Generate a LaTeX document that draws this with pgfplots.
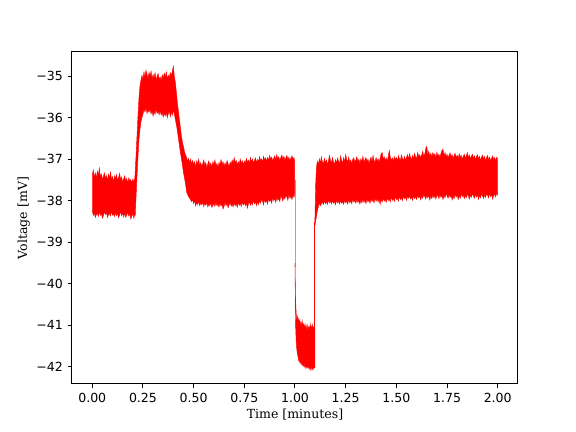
\documentclass[border=0pt]{standalone}
\usepackage{pgfplots}
\pgfplotsset{compat=1.18}
\usepackage{fontspec}
\setmainfont{DejaVu Serif}
\newfontfamily\tickfont{DejaVu Sans}
\begin{document}
\begin{tikzpicture}
\useasboundingbox (-54pt,-36pt) rectangle (378pt,288pt);
\begin{axis}[
  scale only axis, width=334.5pt, height=249pt,
  xmin=-0.1, xmax=2.1, ymin=-42.41, ymax=-34.42,
  axis line style={line width=0.75pt},
  every tick/.style={line width=0.75pt, black},
  tick align=outside, tick pos=left, major tick length=3.3pt,
  xtick={0,0.25,0.5,0.75,1,1.25,1.5,1.75,2},
  xticklabels={0.00,0.25,0.50,0.75,1.00,1.25,1.50,1.75,2.00},
  ytick={-42,-41,-40,-39,-38,-37,-36,-35},
  yticklabels={−42,−41,−40,−39,−38,−37,−36,−35},
  ticklabel style={font=\tickfont\fontsize{9.4}{11}\selectfont},
  xlabel={Time [minutes]}, ylabel={Voltage [mV]},
  label style={font=\fontsize{9.4}{11}\selectfont},
  xlabel style={yshift=2pt},
  ylabel style={yshift=-2pt},
]
% segment 1 + rise + plateau + decay + segment 2
\addplot[fill=red, draw=red, line width=0.3pt] coordinates {
(0.000,-37.38) (0.005,-37.26) (0.010,-37.44) (0.015,-37.33) (0.020,-37.47) (0.025,-37.29) (0.030,-37.40) (0.035,-37.21) (0.040,-37.43) (0.045,-37.36) (0.050,-37.50) (0.055,-37.41) (0.060,-37.33) (0.065,-37.47) (0.070,-37.39) (0.075,-37.52) (0.080,-37.36) (0.085,-37.45) (0.090,-37.31) (0.095,-37.49) (0.100,-37.42) (0.105,-37.55) (0.110,-37.40) (0.115,-37.46) (0.120,-37.37) (0.125,-37.52) (0.130,-37.44) (0.135,-37.34) (0.140,-37.50) (0.145,-37.43) (0.150,-37.56) (0.155,-37.47) (0.160,-37.40) (0.165,-37.54) (0.170,-37.46) (0.175,-37.58) (0.180,-37.45) (0.185,-37.52) (0.190,-37.49) (0.195,-37.57) (0.200,-37.48) (0.205,-37.55) (0.210,-37.45)
(0.215,-37.00) (0.220,-36.50) (0.225,-36.00) (0.230,-35.55) (0.235,-35.25) (0.240,-35.10)
(0.245,-34.98) (0.250,-35.08) (0.255,-34.90) (0.260,-35.02) (0.265,-34.86) (0.270,-34.95) (0.275,-35.06) (0.280,-34.91) (0.285,-35.00) (0.290,-34.88) (0.295,-35.07) (0.300,-34.96) (0.305,-35.04) (0.310,-34.92) (0.315,-35.10) (0.320,-35.00) (0.325,-34.94) (0.330,-35.08) (0.335,-35.02) (0.340,-35.12) (0.345,-34.97) (0.350,-35.05) (0.355,-34.93) (0.360,-35.03) (0.365,-34.90) (0.370,-35.06) (0.375,-34.98) (0.380,-35.04) (0.385,-34.92) (0.390,-35.00) (0.395,-34.88) (0.400,-34.76) (0.405,-35.02)
(0.410,-35.15) (0.415,-35.40) (0.420,-35.65) (0.425,-35.85) (0.430,-36.05) (0.435,-36.25) (0.440,-36.45) (0.445,-36.60) (0.450,-36.70) (0.455,-36.82) (0.460,-36.90) (0.465,-36.95) (0.470,-37.05) (0.475,-36.98) (0.480,-37.08) (0.485,-37.00)
(0.490,-37.12) (0.495,-37.03) (0.500,-37.14) (0.505,-37.06) (0.510,-37.20) (0.515,-37.04) (0.520,-37.12) (0.525,-37.00) (0.530,-37.16) (0.535,-37.08) (0.540,-37.18) (0.545,-37.10) (0.550,-37.02) (0.555,-37.15) (0.560,-37.08) (0.565,-37.22) (0.570,-37.11) (0.575,-37.04) (0.580,-37.17) (0.585,-37.09) (0.590,-37.19) (0.595,-37.06) (0.600,-37.13) (0.605,-37.02) (0.610,-37.15) (0.615,-37.10) (0.620,-37.20) (0.625,-37.08) (0.630,-37.14) (0.635,-37.01) (0.640,-37.12) (0.645,-37.06) (0.650,-37.17) (0.655,-37.09) (0.660,-37.15) (0.665,-37.03) (0.670,-37.11) (0.675,-37.18) (0.680,-37.07) (0.685,-37.13) (0.690,-37.02) (0.695,-37.10) (0.700,-36.96) (0.705,-37.08) (0.710,-37.03) (0.715,-37.14) (0.720,-37.06) (0.725,-37.12) (0.730,-37.00) (0.735,-37.09) (0.740,-37.04) (0.745,-37.13) (0.750,-37.05) (0.755,-37.10) (0.760,-36.98) (0.765,-37.07) (0.770,-37.02) (0.775,-37.11) (0.780,-36.96) (0.785,-37.06) (0.790,-37.00) (0.795,-37.09) (0.800,-37.03) (0.805,-36.97) (0.810,-37.08) (0.815,-37.01) (0.820,-37.06) (0.825,-36.94) (0.830,-37.04) (0.835,-36.99) (0.840,-37.07) (0.845,-36.93) (0.850,-37.02) (0.855,-36.97) (0.860,-37.05) (0.865,-36.96) (0.870,-37.03) (0.875,-36.91) (0.880,-37.00) (0.885,-36.95) (0.890,-37.04) (0.895,-36.98) (0.900,-36.92) (0.905,-37.02) (0.910,-36.89) (0.915,-36.99) (0.920,-36.94) (0.925,-37.03) (0.930,-36.96) (0.935,-36.90) (0.940,-37.00) (0.945,-36.93) (0.950,-37.02) (0.955,-36.96) (0.960,-36.91) (0.965,-37.01) (0.970,-36.95) (0.975,-37.04) (0.980,-36.97) (0.985,-36.92) (0.990,-37.00) (0.995,-36.96) (0.998,-37.05)
(0.998,-37.82) (0.995,-37.92) (0.990,-37.86) (0.985,-37.97) (0.980,-37.89) (0.975,-37.94) (0.970,-37.84) (0.965,-37.99) (0.960,-37.91) (0.955,-37.87) (0.950,-37.96) (0.945,-37.90) (0.940,-38.01) (0.935,-37.93) (0.930,-37.88) (0.925,-38.02) (0.920,-37.94) (0.915,-37.99) (0.910,-37.91) (0.905,-38.04) (0.900,-37.95) (0.895,-38.00) (0.890,-37.92) (0.885,-38.06) (0.880,-37.97) (0.875,-38.02) (0.870,-37.94) (0.865,-38.08) (0.860,-37.99) (0.855,-38.04) (0.850,-37.96) (0.845,-38.10) (0.840,-38.01) (0.835,-37.97) (0.830,-38.06) (0.825,-38.00) (0.820,-38.09) (0.815,-38.02) (0.810,-38.12) (0.805,-38.03) (0.800,-38.07) (0.795,-37.99) (0.790,-38.10) (0.785,-38.04) (0.780,-38.11) (0.775,-38.02) (0.770,-38.08) (0.765,-38.18) (0.760,-38.05) (0.755,-38.12) (0.750,-38.04) (0.745,-38.10) (0.740,-38.03) (0.735,-38.14) (0.730,-38.06) (0.725,-38.11) (0.720,-38.04) (0.715,-38.16) (0.710,-38.07) (0.705,-38.12) (0.700,-38.05) (0.695,-38.15) (0.690,-38.08) (0.685,-38.13) (0.680,-38.04) (0.675,-38.10) (0.670,-38.17) (0.665,-38.06) (0.660,-38.12) (0.655,-38.04) (0.650,-38.14) (0.645,-38.20) (0.640,-38.08) (0.635,-38.13) (0.630,-38.05) (0.625,-38.15) (0.620,-38.09) (0.615,-38.12) (0.610,-38.03) (0.605,-38.14) (0.600,-38.07) (0.595,-38.11) (0.590,-38.16) (0.585,-38.05) (0.580,-38.12) (0.575,-38.08) (0.570,-38.15) (0.565,-38.04) (0.560,-38.11) (0.555,-38.06) (0.550,-38.14) (0.545,-38.03) (0.540,-38.10) (0.535,-38.05) (0.530,-38.12) (0.525,-38.02) (0.520,-38.09) (0.515,-38.04) (0.510,-38.13) (0.505,-37.99) (0.500,-38.07) (0.495,-37.97) (0.490,-38.02) (0.483,-37.96)
(0.475,-37.90) (0.466,-37.80) (0.460,-37.60) (0.455,-37.45) (0.450,-37.33) (0.445,-37.15) (0.440,-37.00) (0.433,-36.78) (0.425,-36.50) (0.417,-36.23) (0.410,-36.05)
(0.405,-35.92) (0.400,-35.82) (0.395,-35.94) (0.390,-35.86) (0.385,-35.98) (0.380,-35.84) (0.375,-35.91) (0.370,-36.00) (0.365,-35.87) (0.360,-35.96) (0.355,-35.89) (0.350,-35.99) (0.345,-35.88) (0.340,-35.94) (0.335,-35.83) (0.330,-35.93) (0.325,-35.85) (0.320,-35.90) (0.315,-35.80) (0.310,-35.92) (0.305,-35.86) (0.300,-35.96) (0.295,-35.84) (0.290,-35.91) (0.285,-35.79) (0.280,-35.87) (0.275,-35.82) (0.270,-35.90) (0.265,-35.76) (0.260,-35.86) (0.255,-35.80) (0.250,-35.92)
(0.245,-36.00) (0.240,-36.10) (0.235,-36.30) (0.230,-36.55) (0.225,-37.00) (0.220,-37.50) (0.215,-38.00) (0.212,-38.35)
(0.210,-38.33) (0.205,-38.42) (0.200,-38.30) (0.195,-38.38) (0.190,-38.44) (0.185,-38.31) (0.180,-38.37) (0.175,-38.27) (0.170,-38.35) (0.165,-38.40) (0.160,-38.29) (0.155,-38.39) (0.150,-38.30) (0.145,-38.36) (0.140,-38.26) (0.135,-38.34) (0.130,-38.41) (0.125,-38.30) (0.120,-38.36) (0.115,-38.28) (0.110,-38.38) (0.105,-38.31) (0.100,-38.35) (0.095,-38.25) (0.090,-38.37) (0.085,-38.30) (0.080,-38.34) (0.075,-38.40) (0.070,-38.28) (0.065,-38.33) (0.060,-38.26) (0.055,-38.36) (0.050,-38.42) (0.045,-38.31) (0.040,-38.35) (0.035,-38.27) (0.030,-38.38) (0.025,-38.30) (0.020,-38.34) (0.015,-38.40) (0.010,-38.29) (0.005,-38.35) (0.000,-38.24) (0.000,-37.38)
};
% drop at 1.0
\addplot[draw=red!50, line width=0.5pt] coordinates {(1.0,-37.5) (1.0,-39.6)};
% lower blob
\addplot[fill=red, draw=red, line width=0.3pt] coordinates {
(1.000,-39.50) (1.003,-40.40) (1.006,-40.72) (1.009,-40.88) (1.012,-40.78) (1.015,-40.92) (1.018,-40.84) (1.021,-40.97) (1.024,-40.86) (1.027,-41.02) (1.030,-40.93) (1.033,-41.05) (1.036,-40.90) (1.039,-41.03) (1.042,-40.96) (1.045,-41.08) (1.048,-40.99) (1.051,-41.10) (1.054,-40.97) (1.057,-41.06) (1.060,-41.12) (1.063,-41.00) (1.066,-41.09) (1.069,-41.03) (1.072,-41.14) (1.075,-40.96) (1.078,-41.08) (1.081,-41.02) (1.084,-41.12) (1.087,-40.98) (1.090,-41.10) (1.093,-41.04) (1.096,-41.12) (1.098,-41.06)
(1.098,-42.02) (1.096,-41.96) (1.093,-42.05) (1.090,-41.98) (1.087,-42.06) (1.084,-41.97) (1.081,-42.04) (1.078,-42.08) (1.075,-41.99) (1.072,-42.05) (1.069,-41.96) (1.066,-42.03) (1.063,-41.95) (1.060,-42.02) (1.057,-41.97) (1.054,-42.04) (1.051,-41.94) (1.048,-42.00) (1.045,-41.92) (1.042,-41.98) (1.039,-41.90) (1.036,-41.96) (1.033,-41.88) (1.030,-41.94) (1.027,-41.85) (1.024,-41.90) (1.021,-41.82) (1.018,-41.85) (1.015,-41.75) (1.012,-41.70) (1.009,-41.58) (1.006,-41.40) (1.003,-41.00) (1.000,-39.60) (1.000,-39.50)
};
% rise at 1.098
\addplot[draw=red, line width=0.7pt] coordinates {(1.098,-42.0) (1.098,-38.5)};
% segment 3
\addplot[fill=red, draw=red, line width=0.3pt] coordinates {
(1.098,-38.50) (1.102,-37.60) (1.106,-37.20)
(1.110,-37.05) (1.115,-37.14) (1.120,-36.99) (1.125,-37.10) (1.130,-36.94) (1.135,-37.06) (1.140,-37.12) (1.145,-36.98) (1.150,-37.08) (1.155,-37.02) (1.160,-37.13) (1.165,-37.04) (1.170,-36.91) (1.175,-37.03) (1.180,-37.09) (1.185,-36.96) (1.190,-37.07) (1.195,-37.12) (1.200,-37.01) (1.205,-37.10) (1.210,-36.97) (1.215,-37.05) (1.220,-37.11) (1.225,-36.92) (1.230,-37.04) (1.235,-37.09) (1.240,-36.96) (1.245,-37.07) (1.250,-36.89) (1.255,-37.01) (1.260,-37.06) (1.265,-36.95) (1.270,-37.08) (1.275,-37.02) (1.280,-37.11) (1.285,-37.00) (1.290,-36.97) (1.295,-37.07) (1.300,-37.02) (1.305,-36.94) (1.310,-37.06) (1.315,-37.00) (1.320,-37.10) (1.325,-36.99) (1.330,-37.05) (1.335,-36.93) (1.340,-37.08) (1.345,-37.01) (1.350,-36.96) (1.355,-37.06) (1.360,-37.00) (1.365,-37.11) (1.370,-37.02) (1.375,-36.95) (1.380,-37.07) (1.385,-36.91) (1.390,-37.03) (1.395,-37.08) (1.400,-36.96) (1.405,-37.05) (1.410,-36.99) (1.415,-37.07) (1.420,-36.98) (1.425,-36.87) (1.430,-36.84) (1.435,-37.00) (1.440,-36.94) (1.445,-37.04) (1.450,-36.97) (1.455,-37.06) (1.460,-36.93) (1.465,-36.79) (1.470,-36.95) (1.475,-37.03) (1.480,-36.97) (1.485,-37.05) (1.490,-36.94) (1.495,-37.01) (1.500,-36.96) (1.505,-37.04) (1.510,-36.91) (1.515,-36.99) (1.520,-37.03) (1.525,-36.90) (1.530,-36.98) (1.535,-37.04) (1.540,-36.93) (1.545,-37.02) (1.550,-36.96) (1.555,-36.89) (1.560,-37.00) (1.565,-36.87) (1.570,-36.96) (1.575,-37.01) (1.580,-36.91) (1.585,-36.99) (1.590,-36.86) (1.595,-36.95) (1.600,-36.98) (1.605,-36.84) (1.610,-36.94) (1.615,-36.89) (1.620,-36.97) (1.625,-36.90) (1.630,-36.81) (1.635,-36.93) (1.640,-36.88) (1.645,-36.74) (1.650,-36.69) (1.655,-36.90) (1.660,-36.81) (1.665,-36.93) (1.670,-36.86) (1.675,-36.95) (1.680,-36.84) (1.685,-36.92) (1.690,-36.87) (1.695,-36.97) (1.700,-36.83) (1.705,-36.93) (1.710,-36.88) (1.715,-36.96) (1.720,-36.86) (1.725,-36.79) (1.730,-36.76) (1.735,-36.92) (1.740,-36.84) (1.745,-36.94) (1.750,-36.88) (1.755,-36.97) (1.760,-36.90) (1.765,-36.85) (1.770,-36.95) (1.775,-36.89) (1.780,-36.99) (1.785,-36.91) (1.790,-36.86) (1.795,-36.97) (1.800,-36.90) (1.805,-36.99) (1.810,-36.87) (1.815,-36.95) (1.820,-36.91) (1.825,-37.00) (1.830,-36.93) (1.835,-36.88) (1.840,-36.97) (1.845,-36.92) (1.850,-36.84) (1.855,-36.96) (1.860,-36.90) (1.865,-36.99) (1.870,-36.93) (1.875,-36.88) (1.880,-36.98) (1.885,-36.92) (1.890,-37.01) (1.895,-36.94) (1.900,-36.89) (1.905,-36.99) (1.910,-36.93) (1.915,-37.03) (1.920,-36.95) (1.925,-36.90) (1.930,-37.00) (1.935,-36.93) (1.940,-37.04) (1.945,-36.96) (1.950,-36.91) (1.955,-37.02) (1.960,-36.95) (1.965,-37.05) (1.970,-36.97) (1.975,-36.92) (1.980,-37.02) (1.985,-36.96) (1.990,-37.04) (1.995,-36.95) (2.000,-37.00)
(2.000,-37.86) (1.995,-37.81) (1.990,-37.91) (1.985,-37.84) (1.980,-37.88) (1.975,-37.96) (1.970,-37.85) (1.965,-37.90) (1.960,-37.82) (1.955,-37.93) (1.950,-37.87) (1.945,-37.83) (1.940,-37.92) (1.935,-37.86) (1.930,-37.95) (1.925,-37.88) (1.920,-37.84) (1.915,-37.93) (1.910,-37.87) (1.905,-37.97) (1.900,-37.85) (1.895,-37.91) (1.890,-37.84) (1.885,-37.94) (1.880,-37.88) (1.875,-37.83) (1.870,-37.92) (1.865,-37.86) (1.860,-37.96) (1.855,-37.88) (1.850,-37.84) (1.845,-37.93) (1.840,-37.87) (1.835,-37.95) (1.830,-37.85) (1.825,-37.90) (1.820,-37.83) (1.815,-37.94) (1.810,-37.88) (1.805,-37.97) (1.800,-37.86) (1.795,-37.91) (1.790,-37.84) (1.785,-37.95) (1.780,-37.89) (1.775,-37.98) (1.770,-37.87) (1.765,-37.92) (1.760,-37.85) (1.755,-37.94) (1.750,-37.88) (1.745,-37.83) (1.740,-37.93) (1.735,-37.87) (1.730,-37.97) (1.725,-37.88) (1.720,-37.92) (1.715,-37.84) (1.710,-37.95) (1.705,-37.89) (1.700,-37.86) (1.695,-37.96) (1.690,-37.88) (1.685,-37.93) (1.680,-37.85) (1.675,-37.95) (1.670,-37.89) (1.665,-37.98) (1.660,-37.87) (1.655,-37.93) (1.650,-37.86) (1.645,-37.96) (1.640,-37.90) (1.635,-37.85) (1.630,-37.94) (1.625,-37.88) (1.620,-37.98) (1.615,-37.89) (1.610,-37.93) (1.605,-37.86) (1.600,-37.97) (1.595,-37.90) (1.590,-37.95) (1.585,-37.87) (1.580,-37.99) (1.575,-37.91) (1.570,-37.96) (1.565,-37.88) (1.560,-37.94) (1.555,-37.89) (1.550,-37.99) (1.545,-37.90) (1.540,-37.95) (1.535,-37.88) (1.530,-38.00) (1.525,-37.92) (1.520,-37.97) (1.515,-37.89) (1.510,-38.01) (1.505,-37.93) (1.500,-37.97) (1.495,-37.90) (1.490,-38.02) (1.485,-37.94) (1.480,-37.99) (1.475,-37.91) (1.470,-38.03) (1.465,-37.95) (1.460,-38.00) (1.455,-37.93) (1.450,-38.04) (1.445,-37.96) (1.440,-38.01) (1.435,-37.94) (1.430,-38.03) (1.425,-37.97) (1.420,-38.09) (1.415,-37.96) (1.410,-38.03) (1.405,-37.95) (1.400,-38.01) (1.395,-37.94) (1.390,-38.05) (1.385,-37.97) (1.380,-38.02) (1.375,-37.95) (1.370,-38.06) (1.365,-37.98) (1.360,-38.03) (1.355,-37.96) (1.350,-38.07) (1.345,-37.99) (1.340,-38.04) (1.335,-37.96) (1.330,-38.05) (1.325,-37.98) (1.320,-38.08) (1.315,-38.00) (1.310,-38.04) (1.305,-37.97) (1.300,-38.06) (1.295,-37.99) (1.290,-38.03) (1.285,-37.96) (1.280,-38.07) (1.275,-38.00) (1.270,-38.05) (1.265,-37.97) (1.260,-38.08) (1.255,-38.01) (1.250,-38.05) (1.245,-37.98) (1.240,-38.09) (1.235,-38.02) (1.230,-38.06) (1.225,-37.99) (1.220,-38.08) (1.215,-38.01) (1.210,-38.05) (1.205,-37.98) (1.200,-38.10) (1.195,-38.02) (1.190,-38.06) (1.185,-37.99) (1.180,-38.08) (1.175,-38.01) (1.170,-38.05) (1.165,-37.98) (1.160,-38.09) (1.155,-38.02) (1.150,-38.07) (1.145,-38.00) (1.140,-38.09) (1.135,-38.03) (1.130,-38.08) (1.125,-38.12) (1.120,-38.05) (1.115,-38.15) (1.110,-38.25) (1.105,-38.40) (1.100,-38.55) (1.098,-38.60) (1.098,-38.50)
};
\end{axis}
\end{tikzpicture}
\end{document}
